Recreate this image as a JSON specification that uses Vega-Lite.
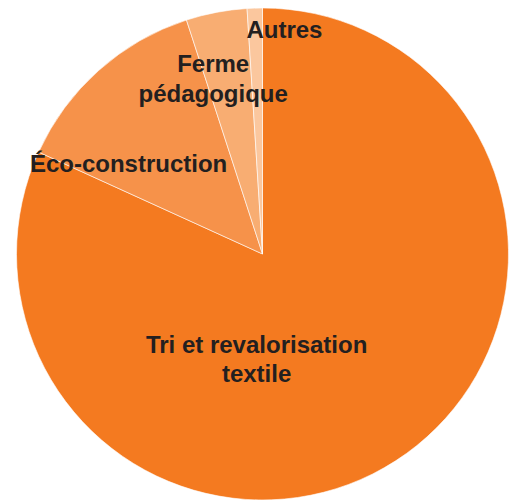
{
  "$schema": "https://vega.github.io/schema/vega-lite/v6.json",
  "autosize": {"type": "fit", "contains": "padding"},
  "width": 515,
  "height": 500,
  "padding": {"left": 10, "top": 8, "right": 0, "bottom": 0},
  "background": "white",
  "config": {"view": {"stroke": null}},
  "data": {
    "values": [
      {"cat": "Tri", "label": "Tri et revalorisation\ntextile", "value": 81.8, "ord": 1},
      {"cat": "Eco", "label": "Éco-construction", "value": 13.2, "ord": 2},
      {"cat": "Ferme", "label": "Ferme\npédagogique", "value": 4.0, "ord": 3},
      {"cat": "Autres", "label": "Autres", "value": 1.0, "ord": 4}
    ]
  },
  "encoding": {
    "theta": {"field": "value", "type": "quantitative", "stack": true},
    "order": {"field": "ord", "type": "quantitative"}
  },
  "layer": [
    {
      "mark": {"type": "arc", "outerRadius": 246, "stroke": "white", "strokeWidth": 0.6},
      "encoding": {
        "color": {
          "field": "cat",
          "type": "nominal",
          "scale": {"domain": ["Tri", "Eco", "Ferme", "Autres"], "range": ["#F47A20", "#F6924A", "#F8AD72", "#FBC79E"]},
          "legend": null
        }
      }
    },
    {
      "mark": {"type": "text", "radius": 100, "dx": -60, "dy": 8, "font": "Liberation Sans", "fontWeight": "bold", "fontSize": 24, "fill": "#231F20", "lineBreak": "\n", "lineHeight": 28.5, "align": "center", "baseline": "middle"},
      "encoding": {"text": {"condition": {"test": "datum.cat === 'Tri'", "field": "label"}, "value": ""}}
    },
    {
      "mark": {"type": "text", "radius": 150, "dx": -34, "dy": 23, "font": "Liberation Sans", "fontWeight": "bold", "fontSize": 24, "fill": "#231F20", "lineBreak": "\n", "lineHeight": 28.5, "align": "center", "baseline": "middle"},
      "encoding": {"text": {"condition": {"test": "datum.cat === 'Eco'", "field": "label"}, "value": ""}}
    },
    {
      "mark": {"type": "text", "radius": 178, "dx": -16, "dy": -14, "font": "Liberation Sans", "fontWeight": "bold", "fontSize": 24, "fill": "#231F20", "lineBreak": "\n", "lineHeight": 30, "align": "center", "baseline": "middle"},
      "encoding": {"text": {"condition": {"test": "datum.cat === 'Ferme'", "field": "label"}, "value": ""}}
    },
    {
      "mark": {"type": "text", "radius": 225, "dx": 29, "dy": 2, "font": "Liberation Sans", "fontWeight": "bold", "fontSize": 24, "fill": "#231F20", "lineBreak": "\n", "lineHeight": 28, "align": "center", "baseline": "middle"},
      "encoding": {"text": {"condition": {"test": "datum.cat === 'Autres'", "field": "label"}, "value": ""}}
    }
  ]
}
